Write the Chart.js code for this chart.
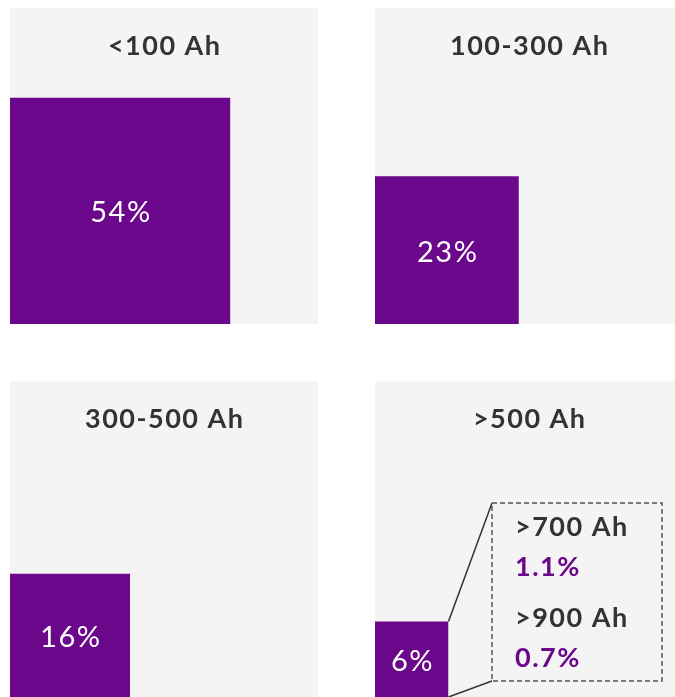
<!DOCTYPE html>
<html>
<head>
<meta charset="utf-8">
<script src="https://cdn.jsdelivr.net/npm/chart.js@4.4.0/dist/chart.umd.min.js"></script>
<style>
  html, body { margin: 0; padding: 0; background: #fff; overflow: hidden; }
  body { width: 675px; height: 697px; position: relative; }
  .panel { position: absolute; width: 308px; height: 316px; background: #f4f4f4; }
  .panel canvas { display: block; }
</style>
</head>
<body>
<div class="panel" style="left:10px;top:8px"><canvas id="c0" width="308" height="316"></canvas></div>
<div class="panel" style="left:375px;top:8px"><canvas id="c1" width="308" height="316"></canvas></div>
<div class="panel" style="left:10px;top:381px"><canvas id="c2" width="308" height="316"></canvas></div>
<div class="panel" style="left:375px;top:381px"><canvas id="c3" width="308" height="316"></canvas></div>
<script>
// capacity classes and their share (%), each drawn as a square with area ~ share
const categories = ['<100 Ah', '100-300 Ah', '300-500 Ah', '>500 Ah'];
const shares = [54, 23, 16, 6];
// breakdown of the top class
const detailLabels = ['>700 Ah', '>900 Ah'];
const detailShares = [1.1, 0.7];

const PURPLE = '#6b078b';
const DARK = '#333333';
const FONT = 'Lato, "Open Sans", sans-serif';
// pixels per unit of sqrt(share)
const PX_X = 30.0;
const PX_Y = 30.8;

// draws text with a little extra tracking, centred or left-aligned
function spaced(ctx, text, px, py, spacing) {
  ctx.letterSpacing = spacing + 'px';
  const w = ctx.measureText(text).width - spacing;
  const left = ctx.textAlign === 'center' ? px - w / 2 : px;
  const align = ctx.textAlign;
  ctx.textAlign = 'left';
  ctx.fillText(text, left, py);
  ctx.textAlign = align;
  ctx.letterSpacing = '0px';
}

const panelText = {
  id: 'panelText',
  afterDatasetsDraw(chart, args, opts) {
    const ctx = chart.ctx;
    const x = chart.scales.x, y = chart.scales.y;
    const side = Math.sqrt(opts.value);
    ctx.save();
    ctx.textAlign = 'center';
    ctx.textBaseline = 'middle';

    ctx.fillStyle = DARK;
    ctx.font = 'bold 27px ' + FONT;
    spaced(ctx, opts.title, chart.width / 2, 38, 1.5);

    ctx.fillStyle = '#fff';
    ctx.font = '29px ' + FONT;
    spaced(ctx, opts.value + '%', x.getPixelForValue(side / 2), y.getPixelForValue(side / 2) + 2, 1.5);

    if (opts.detail) {
      const b = opts.detail.box;
      const cx = x.getPixelForValue(side);
      // leader lines from the square's right corners to the box
      ctx.strokeStyle = DARK;
      ctx.lineWidth = 1.5;
      ctx.beginPath();
      ctx.moveTo(cx, y.getPixelForValue(side));
      ctx.lineTo(b.left, b.top);
      ctx.moveTo(cx, y.getPixelForValue(0));
      ctx.lineTo(b.left, b.bottom);
      ctx.stroke();

      ctx.strokeStyle = '#555';
      ctx.setLineDash([5, 3]);
      ctx.strokeRect(b.left, b.top, b.right - b.left, b.bottom - b.top);
      ctx.setLineDash([]);

      ctx.textAlign = 'left';
      ctx.font = 'bold 27px ' + FONT;
      detailLabels.forEach((lbl, i) => {
        const ty = b.top + 24 + i * 91;
        ctx.fillStyle = DARK;
        spaced(ctx, lbl, b.left + 23, ty, 1.5);
        ctx.fillStyle = PURPLE;
        spaced(ctx, detailShares[i] + '%', b.left + 23, ty + 40, 1.5);
      });
    }
    ctx.restore();
  }
};

categories.forEach((cat, i) => {
  const canvas = document.getElementById('c' + i);
  const side = Math.sqrt(shares[i]);
  new Chart(canvas, {
    type: 'line',
    data: {
      datasets: [{
        data: [{ x: 0, y: side }, { x: side, y: side }],
        fill: 'origin',
        backgroundColor: PURPLE,
        borderWidth: 0,
        pointRadius: 0
      }]
    },
    options: {
      responsive: false,
      animation: false,
      events: [],
      layout: { padding: 0 },
      scales: {
        x: { type: 'linear', display: false, min: 0, max: canvas.width / PX_X },
        y: { type: 'linear', display: false, min: 0, max: canvas.height / PX_Y }
      },
      plugins: {
        legend: { display: false },
        tooltip: { enabled: false },
        panelText: {
          title: cat,
          value: shares[i],
          detail: i === 3 ? { box: { left: 117, top: 122, right: 287, bottom: 300 } } : null
        }
      }
    },
    plugins: [panelText]
  });
});
</script>
</body>
</html>
